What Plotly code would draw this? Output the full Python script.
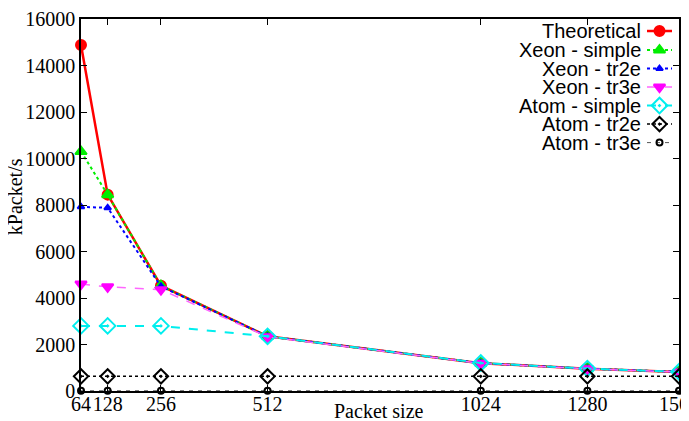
import plotly.graph_objects as go

packet_sizes = [64, 128, 256, 512, 1024, 1280, 1500]
x_tick_labels = ["64", "128", "256", "512", "1024", "1280", "1500"]
y_tick_values = [0, 2000, 4000, 6000, 8000, 10000, 12000, 14000, 16000]

theoretical = [14881, 8446, 4529, 2350, 1197, 961, 822]
xeon_simple = [10300, 8446, 4529, 2350, 1197, 961, 822]
xeon_tr2e = [7920, 7880, 4500, 2350, 1197, 961, 822]
xeon_tr3e = [4600, 4480, 4360, 2330, 1190, 955, 815]
atom_simple = [2800, 2800, 2800, 2350, 1205, 964, 825]
atom_tr2e = [630, 630, 630, 630, 630, 630, 630]
atom_tr3e = [10, 10, 10, 10, 10, 10, 10]

series_names = ["Theoretical", "Xeon - simple", "Xeon - tr2e", "Xeon - tr3e",
                "Atom - simple", "Atom - tr2e", "Atom - tr3e"]
series_values = [theoretical, xeon_simple, xeon_tr2e, xeon_tr3e,
                 atom_simple, atom_tr2e, atom_tr3e]

styles = [
    dict(color="#ff0000", width=2.5, dash="solid", symbol="circle", size=10, lc="#ff0000"),
    dict(color="#00ee00", width=2, dash="dot", symbol="triangle-up", size=10, lc="#00ee00"),
    dict(color="#0000ff", width=2, dash="dot", symbol="triangle-up", size=6, lc="#0000ff"),
    dict(color="#ff00ff", width=1.5, dash="dash", symbol="triangle-down", size=10, lc="#ff66ff"),
    dict(color="#00eeee", width=2, dash="dash", symbol="diamond-open-dot", size=12, lc="#00eeee"),
    dict(color="#000000", width=1.5, dash="dot", symbol="diamond-open-dot", size=11, lc="#000000"),
    dict(color="#000000", width=1, dash="4px,5px", symbol="circle-open", size=6, lc="#555555"),
]

# the page places the figure 8px from the top-left corner of the window
OFF = 8
W, H = 689, 421
plot_left, plot_right = 81 - OFF, 679 - OFF
plot_top, plot_bottom = 19 - OFF, 390.7 - OFF
L, R, T, B = plot_left, W - plot_right, plot_top, H - plot_bottom
pw = plot_right - plot_left
ph = plot_bottom - plot_top


def px_x(sx):
    return (sx - OFF - plot_left) / pw


def px_y(sy):
    return (plot_bottom - (sy - OFF)) / ph


fig = go.Figure()
for name, vals, st in zip(series_names, series_values, styles):
    fig.add_trace(go.Scatter(
        x=packet_sizes, y=vals, name=name, mode="lines+markers",
        line=dict(color=st["lc"], width=st["width"], dash=st["dash"]),
        marker=dict(symbol=st["symbol"], size=st["size"], color=st["color"],
                    line=dict(color=st["color"], width=2)),
        cliponaxis=False, showlegend=False,
    ))

# gnuplot-style key: text on the left, sample on the right (screen pixels)
row_px = [31, 50, 68.5, 87, 105.5, 124, 142.5]
sx0, sx1 = 646, 673
sy0, sy1 = 22, 152
for name, st, ry in zip(series_names, styles, row_px):
    fig.add_trace(go.Scatter(
        x=[sx0 + 1, sx1 - 1], y=[ry, ry], mode="lines", xaxis="x2", yaxis="y2",
        line=dict(color=st["lc"], width=st["width"], dash=st["dash"]),
        showlegend=False, hoverinfo="skip", cliponaxis=False,
    ))
    fig.add_trace(go.Scatter(
        x=[(sx0 + sx1) / 2], y=[ry], mode="markers", xaxis="x2", yaxis="y2",
        marker=dict(symbol=st["symbol"], size=st["size"], color=st["color"],
                    line=dict(color=st["color"], width=2)),
        showlegend=False, hoverinfo="skip", cliponaxis=False,
    ))
    fig.add_annotation(
        x=px_x(643), y=px_y(ry), xref="paper", yref="paper",
        text=name, showarrow=False, xanchor="right", yanchor="middle",
        font=dict(family="Liberation Sans", size=20, color="#000000"),
    )

axis_common = dict(
    showline=True, linecolor="#000000", linewidth=1.5, mirror="ticks",
    ticks="inside", ticklen=6, tickwidth=1, tickcolor="#000000",
    showgrid=False, zeroline=False, automargin=False, tickangle=0,
    ticklabeloverflow="allow",
    tickfont=dict(family="Liberation Serif", size=20, color="#000000"),
)

fig.update_layout(
    width=W, height=H,
    margin=dict(l=L, r=R, t=T, b=B, pad=0, autoexpand=False),
    paper_bgcolor="#ffffff", plot_bgcolor="#ffffff",
    showlegend=False,
    xaxis=dict(range=[64, 1500], tickvals=packet_sizes, ticktext=x_tick_labels,
               ticklabelstandoff=-6, **axis_common),
    yaxis=dict(range=[0, 16000], tickvals=y_tick_values,
               ticktext=[str(v) for v in y_tick_values], **axis_common),
    xaxis2=dict(domain=[px_x(sx0), px_x(sx1)], range=[sx0, sx1],
                visible=False, anchor="y2", fixedrange=True),
    yaxis2=dict(domain=[px_y(sy1), px_y(sy0)], range=[sy1, sy0],
                visible=False, anchor="x2", fixedrange=True),
)

fig.add_annotation(x=px_x(379), y=px_y(411), xref="paper", yref="paper",
                   text="Packet size", showarrow=False,
                   xanchor="center", yanchor="middle",
                   font=dict(family="Liberation Serif", size=20, color="#000000"))
fig.add_annotation(x=px_x(15), y=px_y(197), xref="paper", yref="paper",
                   text="kPacket/s", showarrow=False, textangle=-90,
                   xanchor="center", yanchor="middle",
                   font=dict(family="Liberation Serif", size=20, color="#000000"))

fig.write_html("out.html")
